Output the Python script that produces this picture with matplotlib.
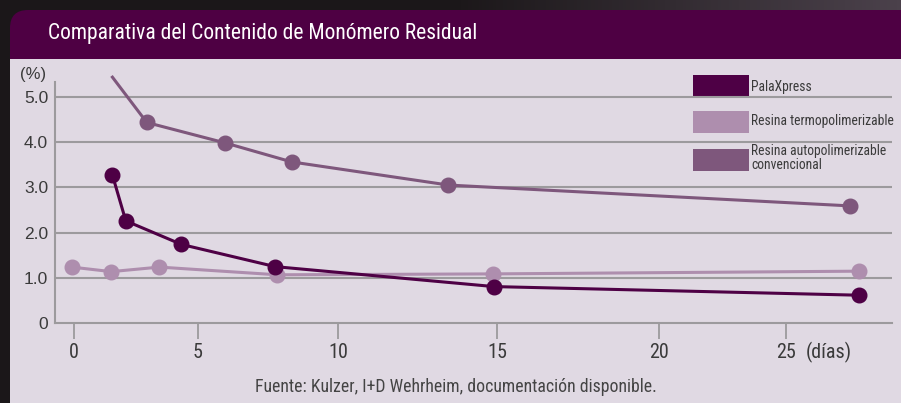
import numpy as np
import matplotlib.pyplot as plt
from matplotlib.patches import FancyBboxPatch, Rectangle
from matplotlib.colors import LinearSegmentedColormap

# Datos (dias, % de monomero residual)
dias_pala = [1.55, 2.09, 4.34, 7.75, 14.91, 27.88]
pala = [3.27, 2.26, 1.74, 1.25, 0.81, 0.62]

dias_termo = [-0.09, 1.5, 3.45, 7.83, 14.89, 27.88]
termo = [1.24, 1.14, 1.24, 1.07, 1.09, 1.15]

dias_auto = [1.55, 2.94, 5.97, 8.34, 13.47, 27.55]
auto = [5.43, 4.43, 3.98, 3.56, 3.05, 2.59]

nombres = ["PalaXpress", "Resina termopolimerizable",
           "Resina autopolimerizable\nconvencional"]
xticks = [0, 5, 10, 15, 20, 25]
yticks = [0, 1, 2, 3, 4, 5]
ylabels = ["0", "1.0", "2.0", "3.0", "4.0", "5.0"]

titulo = "Comparativa del Contenido de Monómero Residual"
fuente = "Fuente: Kulzer, I+D Wehrheim, documentación disponible."

colores = ["#4e0045", "#ae8eae", "#7e577c"]
gris = "#9c9a9d"
fondo = "#e0d9e3"
cabecera = "#4e0043"
narrow = ["Roboto Condensed", "DejaVu Sans"]
normal = ["Liberation Sans", "DejaVu Sans"]

# el eje x del original no es uniforme: posicion (px) de cada marca
eje_dias = [-10, 0, 5, 10, 15, 20, 25, 40]
eje_pos = [-173.4, 74, 197.7, 338.3, 496.7, 658.7, 785.3, 1165.1]


def fwd(x):
    return np.interp(x, eje_dias, eje_pos)


def inv(p):
    return np.interp(p, eje_pos, eje_dias)


fig = plt.figure(figsize=(9.01, 4.03), dpi=100, facecolor="#1b1719")

# fondo, panel y cabecera en pixeles
bg = fig.add_axes([0, 0, 1, 1])
bg.set_xlim(0, 901)
bg.set_ylim(403, 0)
bg.axis("off")
cmap = LinearSegmentedColormap.from_list("g", ["#1b1719", "#1b1719", "#4b414b"])
bg.imshow(np.linspace(0, 1, 256).reshape(1, -1), extent=[0, 901, 12, 0],
          cmap=cmap, aspect="auto")
bg.add_patch(FancyBboxPatch((10, 10), 950, 450, boxstyle="round,pad=0,rounding_size=18",
                            fc=cabecera, ec="none"))
bg.add_patch(Rectangle((10, 58.5), 950, 400, fc=fondo, ec="none"))
bg.text(48, 34, titulo, color="white", va="center", family=narrow, fontsize=15.5)
bg.text(456, 387, fuente, color="#444444", ha="center", va="center",
        family=narrow, fontsize=12.8)
bg.text(33, 74, "(%)", color="#3a3a3a", fontsize=12, family=normal,
        ha="center", va="center")
bg.text(806, 352, "(días)", color="#3a3a3a", va="center", family=narrow, fontsize=14.5)

# leyenda
caja_y = [75, 111, 149]
texto_y = [86.5, 121.5, 158]
for nombre, col, yb, yt in zip(nombres, colores, caja_y, texto_y):
    bg.add_patch(Rectangle((693, yb), 55.5, 21.7, fc=col, ec="none", zorder=5))
    bg.text(751, yt, nombre, color="#3a3a3a", va="center", linespacing=1.0,
            zorder=5, family=narrow, fontsize=9.8)

ax = fig.add_axes([55 / 901, (403 - 323.3) / 403, 837 / 901, (323.3 - 81.7) / 403])
ax.set_facecolor("none")
ax.set_xscale("function", functions=(fwd, inv))
ax.set_xlim(-0.77, 29.2)
ax.set_ylim(0, 5.33)

for y in yticks[1:]:
    ax.axhline(y, color=gris, lw=1.5, zorder=1)

ax.plot(dias_auto, auto, color=colores[2], lw=2.2, marker="o", ms=10.5,
        markevery=list(range(1, len(auto))), clip_on=False, zorder=3)
ax.plot(dias_termo, termo, color=colores[1], lw=2.2, marker="o", ms=10.5,
        clip_on=False, zorder=3)
ax.plot(dias_pala, pala, color=colores[0], lw=2.2, marker="o", ms=10.5,
        clip_on=False, zorder=4)

for s in ["top", "right"]:
    ax.spines[s].set_visible(False)
for s in ["left", "bottom"]:
    ax.spines[s].set_color(gris)
    ax.spines[s].set_linewidth(1.5)

ax.set_xticks(xticks)
ax.set_xticklabels([str(t) for t in xticks], color="#3a3a3a", family=narrow, fontsize=14.5)
ax.set_yticks(yticks)
ax.set_yticklabels(ylabels, family=normal, fontsize=12.5, color="#3a3a3a")
ax.tick_params(axis="x", length=11.5, width=1.3, color=gris, pad=3)
ax.tick_params(axis="y", length=0, pad=5)
ax.minorticks_off()

fig.savefig("out.png", dpi=100, facecolor=fig.get_facecolor())
